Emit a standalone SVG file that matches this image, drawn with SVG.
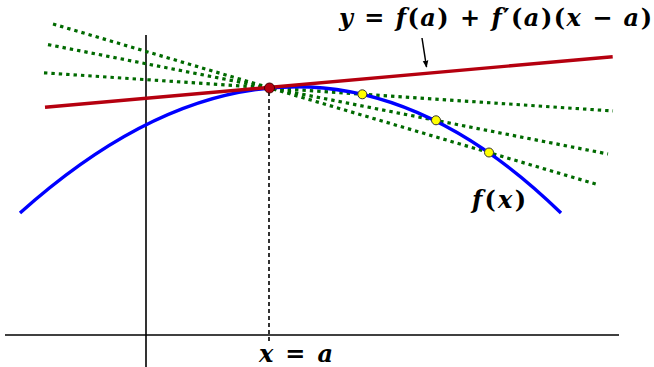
<svg xmlns="http://www.w3.org/2000/svg" width="654" height="367" viewBox="0 0 654 367">
<defs>
<style>
.axis{stroke:#000;stroke-width:1.6;fill:none}
.guide{stroke:#000;stroke-width:1.6;stroke-dasharray:4 3;fill:none}
.secant{stroke:#006a00;stroke-width:3.2;stroke-dasharray:3.4 4;fill:none}
.curve{stroke:#0000ff;stroke-width:3.4;fill:none}
.tangent{stroke:#b5000f;stroke-width:3.4;fill:none}
.lbl{font-family:"DejaVu Serif","Liberation Serif",serif;font-weight:bold;font-size:24px;fill:#000}
.it{font-style:italic}
.pt{fill:#ffff00;stroke:#333;stroke-width:1}
</style>
<marker id="ah" viewBox="0 0 10 10" refX="9" refY="5" markerWidth="7" markerHeight="7" orient="auto" markerUnits="userSpaceOnUse">
<path d="M0,1 L10,5 L0,9 z" fill="#000"/>
</marker>
</defs>
<rect width="654" height="367" fill="#fff"/>
<g id="axes">
<line class="axis" x1="5" y1="335" x2="619" y2="335"/>
<line class="axis" x1="146" y1="35" x2="146" y2="367"/>
</g>
<g id="connectors">
<line class="guide" x1="269" y1="92" x2="269" y2="343"/>
<line class="secant" x1="53" y1="24" x2="599" y2="185"/>
<line class="secant" x1="48" y1="44.6" x2="608" y2="154"/>
<line class="secant" x1="44" y1="72.8" x2="613" y2="111"/>
<line x1="422" y1="38" x2="426.5" y2="67" stroke="#000" stroke-width="1.5" marker-end="url(#ah)"/>
</g>
<g id="curve">
<path class="curve" d="M20,213 C200.3,51.6 381.7,38.1 561,213"/>
</g>
<g id="tangent">
<line class="tangent" x1="45" y1="107.3" x2="612.7" y2="56.7"/>
</g>
<g id="points">
<circle cx="269.5" cy="88" r="5" fill="#b5000f" stroke="#400" stroke-width="1"/>
<circle class="pt" cx="362.3" cy="94.3" r="4.5"/>
<circle class="pt" cx="436" cy="120.3" r="4.5"/>
<circle class="pt" cx="489" cy="152.5" r="4.5"/>
</g>
<g id="labels">
<text class="lbl" x="339" y="26" textLength="313" lengthAdjust="spacing"><tspan class="it">y</tspan> = <tspan class="it">f</tspan>(<tspan class="it">a</tspan>) + <tspan class="it">f</tspan>′(<tspan class="it">a</tspan>)(<tspan class="it">x</tspan> − <tspan class="it">a</tspan>)</text>
<text class="lbl" x="472" y="208" textLength="54" lengthAdjust="spacing"><tspan class="it">f</tspan>(<tspan class="it">x</tspan>)</text>
<text class="lbl" x="259" y="362" textLength="74" lengthAdjust="spacing"><tspan class="it">x</tspan> = <tspan class="it">a</tspan></text>
</g>
</svg>
